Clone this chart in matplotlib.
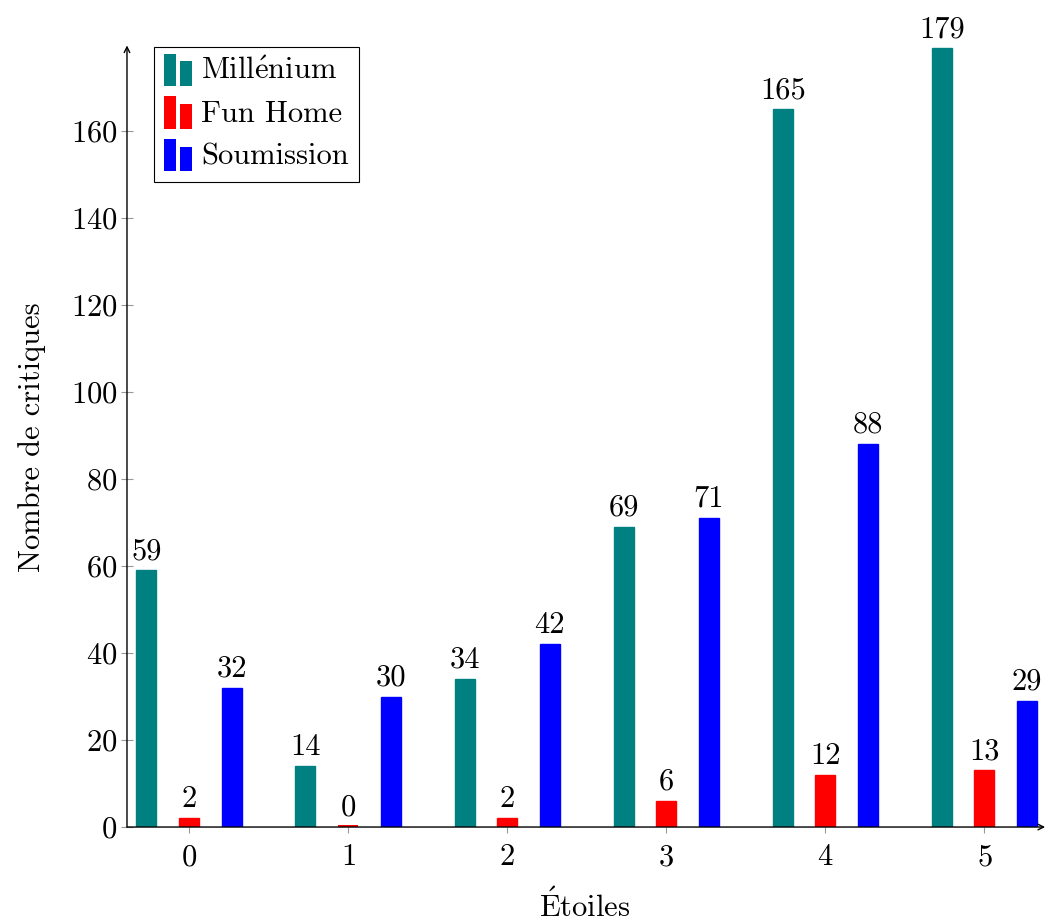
import matplotlib
matplotlib.use('Agg')
import matplotlib.pyplot as plt
from matplotlib.patches import Rectangle
from matplotlib.legend_handler import HandlerBase
import numpy as np

etoiles = [0, 1, 2, 3, 4, 5]
millenium = [59, 14, 34, 69, 165, 179]
fun_home = [2, 0, 2, 6, 12, 13]
soumission = [32, 30, 42, 71, 88, 29]

noms = [r'$\mathrm{Mill\acute{e}nium}$', 'Fun Home', 'Soumission']
couleurs = ['#008080', '#ff0000', '#0000ff']

plt.rcParams['font.family'] = 'serif'
plt.rcParams['font.serif'] = ['cmr10']
plt.rcParams['mathtext.fontset'] = 'cm'
plt.rcParams['axes.formatter.use_mathtext'] = True

FS = 22


class DoubleBar(HandlerBase):
    # pgfplots style legend: two small bars
    def create_artists(self, legend, orig, xd, yd, w, h, fontsize, trans):
        c = orig.get_facecolor()
        bw = w * 0.44
        r1 = Rectangle((xd, yd - 0.3 * h), bw, h * 1.5, fc=c, ec='none', transform=trans)
        r2 = Rectangle((xd + w * 0.56, yd - 0.3 * h), bw, h * 1.15, fc=c, ec='none', transform=trans)
        return [r1, r2]


fig = plt.figure(figsize=(10.46, 9.22), dpi=100)
ax = fig.add_axes([0.1214, 0.103, 0.876, 0.846])

x = np.array(etoiles)
w = 0.126
off = 0.268
series = [millenium, fun_home, soumission]
handles = []
for i, (vals, col, nom) in enumerate(zip(series, couleurs, noms)):
    pos = x + (i - 1) * off
    b = ax.bar(pos, vals, width=w, color=col, edgecolor=col, linewidth=1.0, label=nom)
    handles.append(b[0])
    for p, v in zip(pos, vals):
        ax.text(p, v + 1.2, str(v), ha='center', va='bottom', fontsize=FS)
        if v == 0:
            ax.bar(p, 0.5, width=w, color=col, linewidth=0)

ax.set_xlim(-0.39, 5.37)
ax.set_ylim(0, 179.3)
ax.set_xticks(etoiles)
ax.set_yticks(range(0, 161, 20))
ax.tick_params(axis='x', direction='out', length=4, color='#999999', labelsize=FS, pad=8)
ax.tick_params(axis='y', direction='inout', length=8, color='#999999', labelsize=FS, pad=3)

for s in ['top', 'right', 'left', 'bottom']:
    ax.spines[s].set_visible(False)
ax.annotate('', xy=(1.002, 0), xytext=(0, 0), xycoords='axes fraction',
            arrowprops=dict(arrowstyle='->', color='black', lw=1.0, shrinkA=0, shrinkB=0))
ax.annotate('', xy=(0, 1.002), xytext=(0, 0), xycoords='axes fraction',
            arrowprops=dict(arrowstyle='->', color='black', lw=1.0, shrinkA=0, shrinkB=0))

ax.set_xlabel(r'$\mathrm{\acute{E}toiles}$', fontsize=FS, labelpad=12)
ax.set_ylabel('Nombre de critiques', fontsize=FS, labelpad=18)

leg = ax.legend(handles=handles, labels=noms, loc='upper left', bbox_to_anchor=(0.029, 1.0),
                borderaxespad=0, fontsize=FS, handler_map={Rectangle: DoubleBar()},
                handlelength=0.9, handletextpad=0.3, fancybox=False, edgecolor='black',
                framealpha=1, borderpad=0.35, labelspacing=0.5)
leg.get_frame().set_linewidth(0.8)

fig.savefig('out.png', dpi=100)
